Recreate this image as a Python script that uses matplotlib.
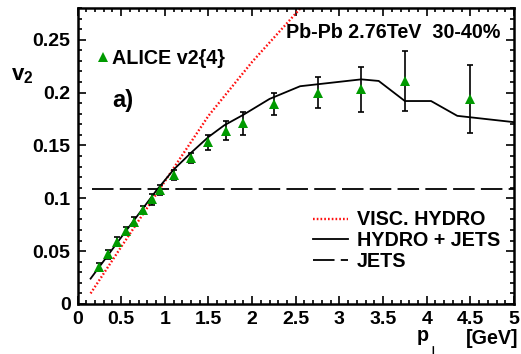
import matplotlib
matplotlib.use("Agg")
import matplotlib.pyplot as plt
from matplotlib.ticker import MultipleLocator

plt.rcParams['font.family'] = ['Liberation Sans', 'DejaVu Sans']
plt.rcParams['font.weight'] = 'bold'
plt.rcParams['mathtext.fontset'] = 'custom'
plt.rcParams['mathtext.rm'] = 'Liberation Sans:bold'
plt.rcParams['mathtext.it'] = 'Liberation Sans:bold'
plt.rcParams['mathtext.bf'] = 'Liberation Sans:bold'
plt.rcParams['lines.scale_dashes'] = False

# ALICE v2{4}, Pb-Pb 2.76 TeV, 30-40% centrality
pt_data = [0.25, 0.35, 0.45, 0.55, 0.65, 0.75, 0.85, 0.95, 1.1, 1.3,
           1.5, 1.7, 1.9, 2.25, 2.75, 3.25, 3.75, 4.5]
v2_data = [0.035, 0.047, 0.059, 0.069, 0.078, 0.089, 0.099, 0.108, 0.122, 0.138,
           0.153, 0.164, 0.171, 0.189, 0.200, 0.203, 0.211, 0.194]
v2_err = [0.004, 0.004, 0.004, 0.004, 0.004, 0.004, 0.005, 0.005, 0.005, 0.005,
          0.007, 0.009, 0.011, 0.0105, 0.015, 0.021, 0.028, 0.032]

# viscous hydrodynamics
pt_visc = [0.15, 0.5, 1.0, 1.5, 2.0, 2.6]
v2_visc = [0.010, 0.054, 0.116, 0.178, 0.229, 0.284]

# hydro + jets
pt_hj = [0.15, 0.5, 0.9, 1.1, 1.3, 1.5, 1.68, 1.9, 2.2, 2.55, 3.25, 3.45,
         3.75, 4.05, 4.35, 5.0]
v2_hj = [0.024, 0.063, 0.107, 0.127, 0.143, 0.158, 0.169, 0.179, 0.194, 0.206,
         0.2125, 0.211, 0.192, 0.192, 0.178, 0.172]

# jets only
pt_jets = [0.17, 5.0]
v2_jets = [0.109, 0.109]

x_ticks = [0, 0.5, 1, 1.5, 2, 2.5, 3, 3.5, 4, 4.5, 5]
x_ticklabels = ['0', '0.5', '1', '1.5', '2', '2.5', '3', '3.5', '4', '4.5', '5']
y_ticks = [0, 0.05, 0.1, 0.15, 0.2, 0.25]
y_ticklabels = ['0', '0.05', '0.1', '0.15', '0.2', '0.25']

W, H = 521, 354
fig = plt.figure(figsize=(W / 100, H / 100), dpi=100)
ax_l, ax_r, ax_b, ax_t = 77.5, 514.0, 304.0, 8.0
ax = fig.add_axes([ax_l / W, 1 - ax_b / H, (ax_r - ax_l) / W, (ax_b - ax_t) / H])

green = '#009a00'
red = '#ff1010'

l_visc, = ax.plot(pt_visc, v2_visc, color=red, lw=1.7, linestyle=(0, (1.2, 1.5)),
                  label='VISC. HYDRO')
l_hj, = ax.plot(pt_hj, v2_hj, color='black', lw=1.3, label='HYDRO + JETS')
l_jets, = ax.plot(pt_jets, v2_jets, color='black', lw=1.3,
                  linestyle=(0, (15.5, 4.5)), label='JETS')

ax.errorbar(pt_data, v2_data, yerr=v2_err, fmt='none', ecolor='black',
            elinewidth=1.2, capsize=2.2, capthick=1.2, zorder=4)
pts, = ax.plot(pt_data, v2_data, linestyle='none', marker='^', color=green,
               markersize=6.5, markeredgewidth=0, zorder=5, label='ALICE v2{4}')

ax.set_xlim(0, 5)
ax.set_ylim(0, 0.28)
ax.xaxis.set_minor_locator(MultipleLocator(0.1))
ax.yaxis.set_minor_locator(MultipleLocator(0.01))
ax.set_xticks(x_ticks)
ax.set_xticklabels(x_ticklabels)
ax.set_yticks(y_ticks)
ax.set_yticklabels(y_ticklabels)
ax.tick_params(which='both', direction='in', top=True, right=True,
               width=1.2, colors='black')
ax.tick_params(which='major', length=6, labelsize=14, pad=5)
ax.tick_params(which='minor', length=3)
for s in ax.spines.values():
    s.set_linewidth(1.8)

fs = 14.2
leg1 = ax.legend(handles=[pts], loc='center left',
                 bbox_to_anchor=((97.5 - ax_l) / (ax_r - ax_l), (ax_b - 58) / (ax_b - ax_t)),
                 frameon=False, borderpad=0, borderaxespad=0, handlelength=0.6,
                 handletextpad=0.14, prop={'size': fs, 'weight': 'bold'}, numpoints=1)
ax.add_artist(leg1)
ax.legend(handles=[l_visc, l_hj, l_jets], loc='center left',
          bbox_to_anchor=((313 - ax_l) / (ax_r - ax_l), (ax_b - 240.5) / (ax_b - ax_t)),
          frameon=False, borderpad=0, borderaxespad=0, handlelength=1.78,
          handletextpad=0.45, labelspacing=0.08, prop={'size': fs, 'weight': 'bold'})

ax.text((286 - ax_l) / (ax_r - ax_l), (ax_b - 33) / (ax_b - ax_t),
        'Pb-Pb 2.76TeV  30-40%', transform=ax.transAxes, fontsize=fs,
        fontweight='bold', ha='left', va='center')
ax.text((112 - ax_l) / (ax_r - ax_l), (ax_b - 100) / (ax_b - ax_t), 'a)',
        transform=ax.transAxes, fontsize=17, fontweight='bold',
        ha='left', va='center')

# axis titles
fig.text(11 / W, (H - 80) / H, r'$\mathrm{v}_{\mathrm{2}}$', fontsize=16,
         ha='left', va='baseline')
fig.text(417 / W, (H - 341) / H, 'p', fontsize=fs, fontweight='bold',
         ha='left', va='baseline')
fig.text(433 / W, (H - 356.5) / H, '\u22a5', fontsize=10, fontweight='bold',
         family='DejaVu Sans', ha='center', va='baseline')
fig.text(518 / W, (H - 344) / H, '[GeV]', fontsize=fs, fontweight='bold',
         ha='right', va='baseline')

fig.savefig('out.png', dpi=100)
